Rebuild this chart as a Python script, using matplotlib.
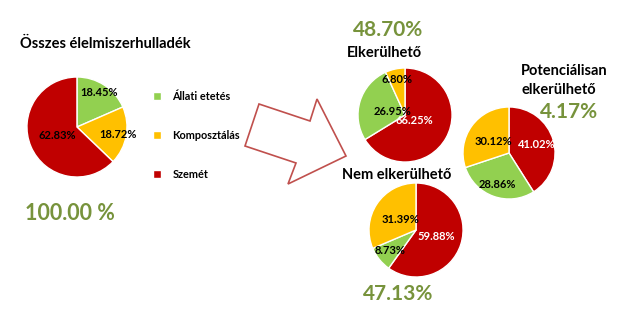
import numpy as np
import matplotlib.pyplot as plt
from matplotlib.patches import Polygon

plt.rcParams['font.family'] = ['Lato', 'DejaVu Sans']

W, H = 636, 331

# colours of the three waste streams
c_green = '#92D050'
c_yellow = '#FFC000'
c_red = '#C00000'
c_total = '#77933C'

# total food waste
total_labels = ['Állati etetés', 'Komposztálás', 'Szemét']
total_vals = [18.45, 18.72, 62.83]
total_share = '100.00 %'

# avoidable (red first, clockwise)
avoid_vals = [66.25, 26.95, 6.80]
avoid_share = '48.70%'

# potentially avoidable
pot_vals = [41.02, 28.86, 30.12]
pot_share = '4.17%'

# unavoidable
unav_vals = [59.88, 8.73, 31.39]
unav_share = '47.13%'


def Y(py):
    return H - py


def draw_pie(ax, vals, colors, tcolors, center, r, dists, explode):
    wedges, _ = ax.pie(vals, colors=colors, startangle=90, counterclock=False,
                       center=(center[0], Y(center[1])), radius=r,
                       explode=explode, frame=True,
                       wedgeprops=dict(edgecolor='white', linewidth=1))
    for w, v, tc, d in zip(wedges, vals, tcolors, dists):
        ang = np.radians((w.theta1 + w.theta2) / 2)
        cx, cy = w.center
        ax.text(cx + d * r * np.cos(ang), cy + d * r * np.sin(ang),
                f'{v:.2f}%', ha='center', va='center', fontsize=8,
                fontweight='bold', color=tc)
    return wedges


fig = plt.figure(figsize=(W / 100, H / 100), dpi=100)
ax = fig.add_axes([0, 0, 1, 1])

# main pie
main_w = draw_pie(ax, total_vals, [c_green, c_yellow, c_red], ['black'] * 3,
                  (77, 127), 50, [0.82, 0.83, 0.42], [0, 0, 0.05])
ax.text(20, Y(44), 'Összes élelmiszerhulladék', fontsize=10.5, fontweight='bold',
        ha='left', va='center')
ax.text(25, Y(213), total_share, fontsize=15.5, fontweight='bold', color=c_total,
        ha='left', va='center')
ax.legend(main_w, total_labels, loc='upper left',
          bbox_to_anchor=(143, Y(81)), bbox_transform=ax.transData,
          frameon=False, prop=dict(weight='bold', size=7.8),
          handlelength=0.8, handleheight=0.8, labelspacing=2.6,
          handletextpad=1.0)

# avoidable
draw_pie(ax, avoid_vals, [c_red, c_green, c_yellow], ['white', 'black', 'black'],
         (405, 115), 47, [0.22, 0.27, 0.78], [0.05, 0, 0])
ax.text(388, Y(30), avoid_share, fontsize=15, fontweight='bold', color=c_total,
        ha='center', va='center')
ax.text(384, Y(53), 'Elkerülhető', fontsize=10.5, fontweight='bold',
        ha='center', va='center')

# potentially avoidable
draw_pie(ax, pot_vals, [c_red, c_green, c_yellow], ['white', 'black', 'black'],
         (509, 153), 46, [0.63, 0.73, 0.42], [0.05, 0, 0])
ax.text(521, Y(71), 'Potenciálisan', fontsize=10.5, fontweight='bold',
        ha='left', va='center')
ax.text(521, Y(90), 'elkerülhető', fontsize=10.5, fontweight='bold',
        ha='left', va='center')
ax.text(569, Y(112), pot_share, fontsize=15, fontweight='bold', color=c_total,
        ha='center', va='center')

# unavoidable
draw_pie(ax, unav_vals, [c_red, c_green, c_yellow], ['white', 'black', 'black'],
         (416, 230), 47, [0.45, 0.71, 0.39], [0.05, 0, 0])
ax.text(397, Y(175), 'Nem elkerülhető', fontsize=10.5, fontweight='bold',
        ha='center', va='center')
ax.text(398, Y(294), unav_share, fontsize=15, fontweight='bold', color=c_total,
        ha='center', va='center')

# outlined arrow
arrow_pts = [(259, 104), (310, 121), (317, 99), (346, 156),
             (288, 184), (296, 163), (245, 146)]
ax.add_patch(Polygon([(x, Y(y)) for x, y in arrow_pts], closed=True,
                     facecolor='white', edgecolor='#C0504D', linewidth=1.2))

ax.set_xlim(0, W)
ax.set_ylim(0, H)
ax.set_aspect('auto')
ax.axis('off')

fig.savefig('out.png', dpi=100)
